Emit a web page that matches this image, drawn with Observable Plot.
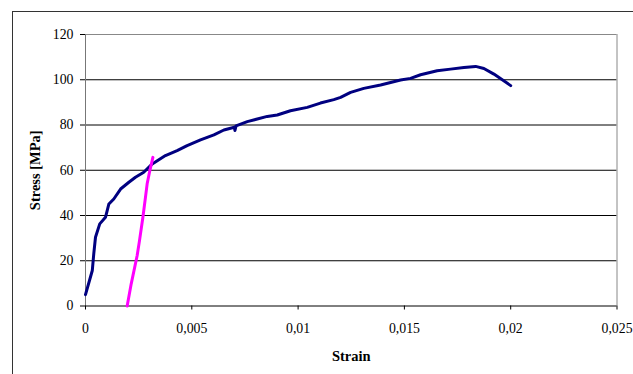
<!DOCTYPE html>
<html>
<head>
<meta charset="utf-8">
<script src="https://cdn.jsdelivr.net/npm/d3@7"></script>
<script src="https://cdn.jsdelivr.net/npm/@observablehq/plot@0.6"></script>
<style>
  html, body { margin: 0; padding: 0; background: #fff; overflow: hidden; }
  #wrap { position: relative; width: 633px; height: 374px; }
  #box { position: absolute; left: 12px; top: 11px; width: 700px; height: 450px; border: 1px solid #333; box-sizing: border-box; }
  #chart { position: absolute; left: 0; top: 0; }
</style>
</head>
<body>
<div id="wrap"><div id="box"></div><div id="chart"></div></div>
<script>
// Stress–strain test curve (navy) and the 0.2 % offset line (magenta)
const curveStrain = [0, 0.00032, 0.00039, 0.00047, 0.00067, 0.00094, 0.0011, 0.00133, 0.00165, 0.00204,
  0.00235, 0.00274, 0.00314, 0.00376, 0.00431, 0.00478, 0.00541, 0.00604, 0.00651, 0.00700,
  0.00703, 0.00708, 0.00761, 0.00855, 0.00902, 0.00964, 0.01043, 0.01105, 0.01168, 0.01200,
  0.01247, 0.01309, 0.01388, 0.01482, 0.01529, 0.01576, 0.01654, 0.01717, 0.0178, 0.01835,
  0.01874, 0.01921, 0.0200];
const curveStress = [5, 15.7, 23.2, 30.4, 36.3, 39.2, 45.1, 47.3, 51.7, 54.7,
  56.9, 59.1, 62.8, 66.5, 68.7, 70.9, 73.4, 75.6, 77.8, 79.0,
  77.6, 79.6, 81.5, 83.8, 84.4, 86.3, 87.8, 89.7, 91.2, 92.2,
  94.4, 96.2, 97.7, 99.9, 100.6, 102.2, 104.0, 104.7, 105.4, 105.9,
  105.0, 102.5, 97.4];

const offsetStrain = [0.00196, 0.00215, 0.00243, 0.00254, 0.0027, 0.00282, 0.0029, 0.00301, 0.00317];
const offsetStress = [0, 9.8, 22.3, 28.9, 39.2, 48, 54, 59.1, 65.7];

const xTicks = [0, 0.005, 0.01, 0.015, 0.02, 0.025];
const yTicks = [0, 20, 40, 60, 80, 100, 120];

const curve = curveStrain.map((s, i) => ({strain: s, stress: curveStress[i]}));
const offset = offsetStrain.map((s, i) => ({strain: s, stress: offsetStress[i]}));

const fmtComma = d => d === 0 ? "0" : String(d).replace(".", ",");
const serif = "'Liberation Serif', 'Times New Roman', serif";

const chart = Plot.plot({
  width: 633,
  height: 374,
  marginLeft: 85,
  marginRight: 16.5,
  marginTop: 34,
  marginBottom: 68.5,
  style: {fontFamily: serif, fontSize: "13.8px", color: "#000", background: "transparent", overflow: "visible"},
  x: {domain: [0, 0.025]},
  y: {domain: [0, 120]},
  marks: [
    Plot.gridY(yTicks.filter(d => d > 0 && d < 120), {stroke: "#000", strokeOpacity: 1, strokeWidth: 1}),
    Plot.ruleY([120], {stroke: "#888", strokeWidth: 1}),
    Plot.ruleX([0.025], {stroke: "#888", strokeWidth: 1}),
    Plot.ruleX([0], {stroke: "#777", strokeWidth: 1}),
    Plot.ruleY([0], {stroke: "#000", strokeWidth: 1}),
    Plot.axisY(yTicks, {tickSize: 5, tickPadding: 7, label: null, stroke: "#000"}),
    Plot.axisX(xTicks, {tickSize: 4, tickPadding: 13, tickFormat: fmtComma, label: null, stroke: "#000"}),
    Plot.line(curve, {x: "strain", y: "stress", stroke: "#000080", strokeWidth: 3, strokeLinejoin: "round", strokeLinecap: "round"}),
    Plot.line(offset, {x: "strain", y: "stress", stroke: "#FF00FF", strokeWidth: 3, strokeLinejoin: "round"}),
    Plot.text(["Stress [MPa]"], {frameAnchor: "left", dx: -50, rotate: -90, textAnchor: "middle", lineAnchor: "middle", fontWeight: "bold", fontSize: 14.5, fill: "#000"}),
    Plot.text(["Strain"], {frameAnchor: "bottom", dy: 50.5, textAnchor: "middle", lineAnchor: "middle", fontWeight: "bold", fontSize: 14.5, fill: "#000"})
  ]
});
document.getElementById("chart").appendChild(chart);
</script>
</body>
</html>
